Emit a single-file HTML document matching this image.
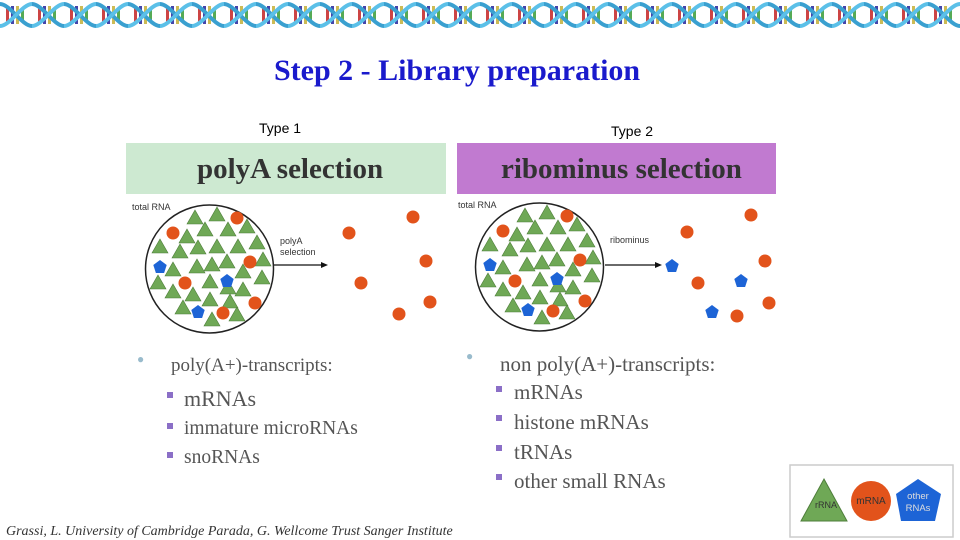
<!DOCTYPE html>
<html><head><meta charset="utf-8"><style>
body{margin:0;width:960px;height:540px;overflow:hidden;background:#fff;position:relative;font-family:"Liberation Sans",sans-serif}
.a{position:absolute;white-space:nowrap}
.ser{font-family:"Liberation Serif",serif}
.li{position:absolute;font-family:"Liberation Serif",serif;font-size:19px;color:#555;white-space:nowrap}
.sq{position:absolute;width:6px;height:6px;background:#8b6fc7}
</style></head><body>
<svg width="960" height="540" style="position:absolute;left:0;top:0">
<defs>
<pattern id="dna" width="32" height="30" patternUnits="userSpaceOnUse">
<rect x="6" y="8" width="3" height="14" fill="#c44"/><rect x="11" y="6" width="3" height="18" fill="#44a"/><rect x="16" y="6" width="3" height="18" fill="#cb5"/><rect x="21" y="8" width="3" height="14" fill="#5a5"/>
<path d="M0 4 C10 4 22 26 32 26" stroke="#3aa0d0" stroke-width="4" fill="none"/>
<path d="M0 26 C10 26 22 4 32 4" stroke="#5bc0e8" stroke-width="4" fill="none"/>
</pattern>
<polygon id="t" points="0,-8 8,6 -8,6" fill="#6fa856" stroke="#4e7e3a" stroke-width="0.6"/>
<circle id="o" r="6.5" fill="#e2531b"/>
<polygon id="b" points="0,-7 6.7,-2 4.1,6 -4.1,6 -6.7,-2" fill="#1d64d6"/>
<g id="blob">
<circle cx="209.5" cy="269" r="64" fill="#fff" stroke="#222" stroke-width="1.5"/>
<use href="#t" x="195" y="218"/><use href="#t" x="217" y="215"/><use href="#t" x="205" y="230"/><use href="#t" x="228" y="230"/><use href="#t" x="247" y="227"/><use href="#t" x="187" y="237"/><use href="#t" x="160" y="247"/><use href="#t" x="180" y="252"/><use href="#t" x="198" y="248"/><use href="#t" x="217" y="247"/><use href="#t" x="238" y="247"/><use href="#t" x="257" y="243"/><use href="#t" x="173" y="270"/><use href="#t" x="197" y="267"/><use href="#t" x="212" y="265"/><use href="#t" x="227" y="262"/><use href="#t" x="243" y="272"/><use href="#t" x="263" y="260"/><use href="#t" x="158" y="283"/><use href="#t" x="173" y="292"/><use href="#t" x="193" y="295"/><use href="#t" x="210" y="282"/><use href="#t" x="228" y="288"/><use href="#t" x="243" y="290"/><use href="#t" x="262" y="278"/><use href="#t" x="183" y="308"/><use href="#t" x="210" y="300"/><use href="#t" x="230" y="302"/><use href="#t" x="237" y="315"/><use href="#t" x="212" y="320"/>
<use href="#o" x="237" y="218"/><use href="#o" x="173" y="233"/><use href="#o" x="250" y="262"/><use href="#o" x="185" y="283"/><use href="#o" x="255" y="303"/><use href="#o" x="223" y="313"/>
<use href="#b" x="160" y="267"/><use href="#b" x="227" y="281"/><use href="#b" x="198" y="312"/>
</g>
</defs>
<rect x="0" y="2" width="960" height="30" fill="url(#dna)"/>
<rect x="126" y="143" width="320" height="51" fill="#cde9d1"/>
<rect x="457" y="143" width="319" height="51" fill="#c17ad0"/>
<use href="#blob"/>
<use href="#blob" transform="translate(330,-2)"/>
<line x1="274" y1="265" x2="322" y2="265" stroke="#111" stroke-width="1.2"/><polygon points="328,265 321,262 321,268" fill="#111"/>
<line x1="605" y1="265" x2="656" y2="265" stroke="#111" stroke-width="1.2"/><polygon points="662,265 655,262 655,268" fill="#111"/>
<use href="#o" x="413" y="217"/><use href="#o" x="349" y="233"/><use href="#o" x="426" y="261"/><use href="#o" x="361" y="283"/><use href="#o" x="430" y="302"/><use href="#o" x="399" y="314"/>
<use href="#o" x="751" y="215"/><use href="#o" x="687" y="232"/><use href="#o" x="765" y="261"/><use href="#o" x="698" y="283"/><use href="#o" x="769" y="303"/><use href="#o" x="737" y="316"/>
<use href="#b" x="672" y="266"/><use href="#b" x="741" y="281"/><use href="#b" x="712" y="312"/>
<rect x="790" y="465" width="163" height="72" fill="#fff" stroke="#ccc" stroke-width="1.5"/>
<polygon points="824,479 847,521 801,521" fill="#6fa856" stroke="#4e7e3a"/>
<circle cx="871" cy="501" r="20" fill="#e2531b"/>
<polygon points="918,479 941,494 935,521 901,521 896,494" fill="#1d64d6"/>
<text x="826" y="508" font-size="9" text-anchor="middle" fill="#333" font-family="Liberation Sans">rRNA</text>
<text x="871" y="504" font-size="10" text-anchor="middle" fill="#333" font-family="Liberation Sans">mRNA</text>
<text x="918" y="499" font-size="9.5" text-anchor="middle" fill="#ddd" font-family="Liberation Sans">other</text>
<text x="918" y="511" font-size="9.5" text-anchor="middle" fill="#ddd" font-family="Liberation Sans">RNAs</text>
</svg>
<div class="a ser" style="left:274px;top:54px;font-size:30px;font-weight:bold;color:#1a1acc">Step 2 - Library preparation</div>
<div class="a" style="left:259px;top:120px;font-size:14px">Type 1</div>
<div class="a" style="left:611px;top:123px;font-size:14px">Type 2</div>
<div class="a ser" style="left:197px;top:153px;font-size:29px;font-weight:bold;color:#333">polyA selection</div>
<div class="a ser" style="left:501px;top:153px;font-size:29px;font-weight:bold;color:#333">ribominus selection</div>
<div class="a" style="left:132px;top:202px;font-size:9px;color:#333">total RNA</div>
<div class="a" style="left:458px;top:200px;font-size:9px;color:#333">total RNA</div>
<div class="a" style="left:280px;top:236px;font-size:9px;color:#333;line-height:11px">polyA<br>selection</div>
<div class="a" style="left:610px;top:235px;font-size:9px;color:#333">ribominus</div>
<div class="a" style="left:137px;top:352px;color:#9bc;font-size:12px">●</div>
<div class="li" style="left:171px;top:355px">poly(A+)-transcripts:</div>
<div class="sq" style="left:167px;top:392px"></div><div class="li" style="left:184px;top:386px;font-size:22px">mRNAs</div>
<div class="sq" style="left:167px;top:423px"></div><div class="li" style="left:184px;top:418px;font-size:19.5px">immature microRNAs</div>
<div class="sq" style="left:167px;top:452px"></div><div class="li" style="left:184px;top:447px;font-size:19.5px">snoRNAs</div>
<div class="a" style="left:466px;top:349px;color:#9bc;font-size:12px">●</div>
<div class="li" style="left:500px;top:352px;font-size:21px">non poly(A+)-transcripts:</div>
<div class="sq" style="left:496px;top:386px"></div><div class="li" style="left:514px;top:380px;font-size:21px">mRNAs</div>
<div class="sq" style="left:496px;top:415px"></div><div class="li" style="left:514px;top:410px;font-size:21px">histone mRNAs</div>
<div class="sq" style="left:496px;top:445px"></div><div class="li" style="left:514px;top:440px;font-size:21px">tRNAs</div>
<div class="sq" style="left:496px;top:474px"></div><div class="li" style="left:514px;top:469px;font-size:21px">other small RNAs</div>
<div class="a ser" style="left:6px;top:524px;font-size:14px;font-style:italic;color:#333">Grassi, L. University of Cambridge Parada, G. Wellcome Trust Sanger Institute</div>
</body></html>
